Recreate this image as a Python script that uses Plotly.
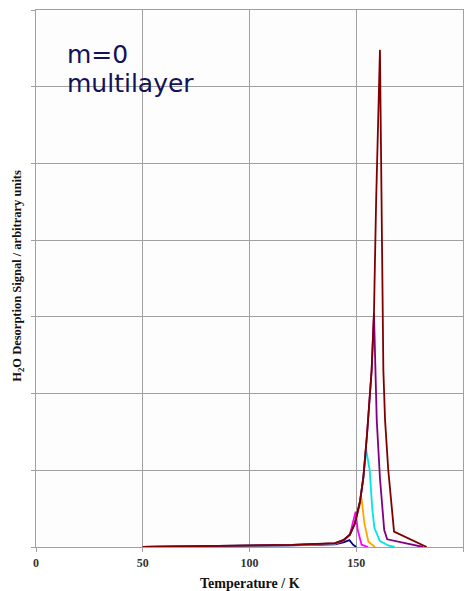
import plotly.graph_objects as go

# Temperatures (K) and signals (arbitrary units)
navy_T = [50, 70, 100, 120, 140, 144, 146.8, 148.5, 150]
navy_v = [0, 0.005, 0.012, 0.02, 0.035, 0.06, 0.09, 0.03, 0]

magenta_T = [50, 70, 100, 120, 140, 144, 147, 149.7, 150.7, 152.5, 155.5]
magenta_v = [0, 0.006, 0.015, 0.024, 0.04, 0.08, 0.16, 0.46, 0.22, 0.03, 0]

orange_T = [50, 70, 100, 120, 140, 144, 147, 149.4, 151.2, 152.5, 153.8, 155.7, 158.8]
orange_v = [0, 0.006, 0.016, 0.025, 0.045, 0.09, 0.16, 0.31, 0.5, 0.63, 0.31, 0.07, 0]

cyan_T = [50, 70, 100, 120, 140, 144, 147, 149.4, 151.8, 153.3, 154.7, 156.3, 157.5, 158.5, 161, 165, 168]
cyan_v = [0, 0.006, 0.016, 0.026, 0.045, 0.09, 0.16, 0.31, 0.6, 0.9, 1.26, 1.0, 0.5, 0.25, 0.08, 0.02, 0]

purple_T = [50, 70, 100, 120, 140, 144, 147, 149.4, 151.8, 153.3, 155, 157.2, 158.3, 159.6, 161.1, 163.1, 164.5, 181.3]
purple_v = [0, 0.007, 0.017, 0.027, 0.047, 0.09, 0.16, 0.31, 0.6, 0.9, 1.45, 2.3, 3.05, 1.65, 0.9, 0.22, 0.1, 0]

darkred_T = [50, 70, 100, 120, 140, 144, 147, 149.4, 151.8, 153.3, 155, 157.2, 158.3, 159.3, 161.1,
             161.9, 162.7, 163.5, 165.0, 167.7, 183]
darkred_v = [0, 0.007, 0.018, 0.028, 0.05, 0.09, 0.16, 0.31, 0.6, 0.9, 1.45, 2.3, 3.05, 4.5, 6.48,
             4.5, 2.3, 1.65, 1.0, 0.2, 0]

x_ticks = [0, 50, 100, 150, 200]

series = [
    (navy_T, navy_v, "#000080"),
    (magenta_T, magenta_v, "#ff00ff"),
    (orange_T, orange_v, "#ffa500"),
    (cyan_T, cyan_v, "#00e5e5"),
    (purple_T, purple_v, "#800080"),
    (darkred_T, darkred_v, "#800000"),
]

fig = go.Figure()
for T, v, c in series:
    fig.add_trace(go.Scatter(x=T, y=v, mode="lines", line=dict(color=c, width=1.8),
                             showlegend=False, hoverinfo="skip"))

grid = "#a0a0a0"
fig.update_layout(
    width=464, height=591,
    margin=dict(l=36, r=1, t=10, b=44),
    paper_bgcolor="white",
    plot_bgcolor="#fdfdfd",
    xaxis=dict(range=[0, 200], tickvals=x_ticks, ticktext=[str(t) for t in x_ticks],
               showgrid=True, gridcolor=grid, gridwidth=1.2,
               showline=True, linecolor=grid, linewidth=1.2, mirror=True,
               ticks="outside", ticklen=4, tickcolor=grid, zeroline=False,
               tickfont=dict(family="Liberation Serif", size=12, color="#333333", weight="bold")),
    yaxis=dict(range=[0, 7], dtick=1, showticklabels=False,
               showgrid=True, gridcolor=grid, gridwidth=1.2,
               showline=True, linecolor=grid, linewidth=1.2, mirror=True,
               ticks="outside", ticklen=4, tickcolor=grid, zeroline=False),
)

fig.add_annotation(xref="paper", yref="paper", x=0.5, y=-36/537, yanchor="middle",
                   text="<b>Temperature / K</b>", showarrow=False,
                   font=dict(family="Liberation Serif", size=14, color="#111111"))
fig.add_annotation(xref="paper", yref="paper", x=-18/427, y=0.505, xanchor="center", yanchor="middle",
                   textangle=-90, text="<b>H<sub>2</sub>O Desorption Signal / arbitrary units</b>",
                   showarrow=False,
                   font=dict(family="Liberation Serif", size=12.5, color="#111111"))
fig.add_annotation(xref="paper", yref="paper", x=(65-36)/427, y=(547-55)/537, xanchor="left",
                   yanchor="middle", text="m=0", showarrow=False,
                   font=dict(family="DejaVu Sans", size=25, color="#12125a"))
fig.add_annotation(xref="paper", yref="paper", x=(65-36)/427, y=(547-83)/537, xanchor="left",
                   yanchor="middle", text="multilayer", showarrow=False,
                   font=dict(family="DejaVu Sans", size=25, color="#12125a"))

fig.write_html("out.html")
